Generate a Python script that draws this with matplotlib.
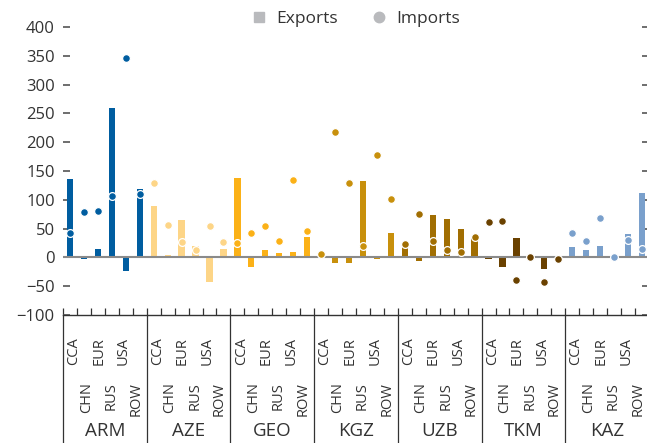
import numpy as np
import matplotlib
matplotlib.use("Agg")
import matplotlib.pyplot as plt
import matplotlib.transforms as mtransforms
from matplotlib.lines import Line2D

plt.rcParams["font.family"] = ["Open Sans", "DejaVu Sans"]

# data
countries = ["ARM", "AZE", "GEO", "KGZ", "UZB", "TKM", "KAZ"]
partners = ["CCA", "CHN", "EUR", "RUS", "USA", "ROW"]
colors = ["#005da0", "#fdd587", "#fbb117", "#c8900c", "#a16e02", "#6a4100", "#7aa0cc"]

exp_arm = [136, -2, 15, 260, -24, 119]
exp_aze = [90, 5, 65, 20, -42, 15]
exp_geo = [138, -17, 13, 8, 10, 36]
exp_kgz = [1, -10, -9, 133, -2, 43]
exp_uzb = [18, -7, 74, 67, 50, 33]
exp_tkm = [-2, -16, 34, 0, -21, 3]
exp_kaz = [18, 12, 20, 0, 41, 112]

imp_arm = [42, 78, 80, 107, 347, 110]
imp_aze = [129, 57, 26, 12, 55, 27]
imp_geo = [25, 43, 54, 28, 134, 45]
imp_kgz = [6, 218, 129, 20, 177, 101]
imp_uzb = [24, 76, 28, 13, 9, 36]
imp_tkm = [61, 64, -40, 0, -43, -2]
imp_kaz = [42, 29, 68, 0, 30, 14]

exports = [exp_arm, exp_aze, exp_geo, exp_kgz, exp_uzb, exp_tkm, exp_kaz]
imports = [imp_arm, imp_aze, imp_geo, imp_kgz, imp_uzb, imp_tkm, imp_kaz]

W, H = 647, 443
fig = plt.figure(figsize=(W / 100, H / 100), dpi=100)
ax = fig.add_axes([63 / W, 128 / H, (649 - 63) / W, (315 - 27) / H])

n = len(partners)
for i, c in enumerate(countries):
    x = np.arange(n) + i * n
    ax.bar(x, exports[i], width=0.45, color=colors[i], zorder=2)
    ax.plot(x, imports[i], "o", ms=5.6, color=colors[i], mec="white", mew=0.9,
            zorder=4, clip_on=False)

ax.axhline(0, color="#8a8a8a", lw=1.5, zorder=3)

ax.set_xlim(-0.5, n * len(countries) - 0.5)
ax.set_ylim(-100, 400)
ax.set_yticks(np.arange(-100, 401, 50))
ax.tick_params(axis="y", direction="in", length=5, width=1.2, color="#555555",
               labelsize=12, labelcolor="#333333", pad=6, right=True, left=True)

for s in ["top", "left", "right"]:
    ax.spines[s].set_visible(False)
ax.spines["bottom"].set_color("#333333")
ax.spines["bottom"].set_linewidth(1)

bounds = np.arange(n * len(countries) + 1) - 0.5
ax.set_xticks(bounds)
ax.set_xticklabels([])
ax.tick_params(axis="x", direction="in", length=5, width=0.9, color="#333333")

trans = mtransforms.blended_transform_factory(ax.transData, ax.transAxes)
for k in range(len(countries) + 1):
    xb = k * n - 0.5
    ax.add_line(Line2D([xb, xb], [0, -0.45], transform=trans, color="#333333",
                       lw=0.9, clip_on=False))

# partner labels, two staggered rows, slightly packed toward group centre
ax_h = 315 - 27
for i in range(len(countries)):
    mid = i * n + 2.5
    for j, p in enumerate(partners):
        xc = mid + (j - 2.5) * 0.89
        ytop = 337 if j % 2 == 0 else 382
        ax.text(xc, -(ytop - 315) / ax_h, p, transform=trans, rotation=90,
                ha="center", va="top", fontsize=10.5, color="#333333")
    ax.text(mid, -(431 - 315) / ax_h, countries[i], transform=trans,
            ha="center", va="center", fontsize=13.5, color="#333333")

handles = [
    Line2D([], [], marker="s", ls="none", ms=7.5, color="#b9babd", label="Exports"),
    Line2D([], [], marker="o", ls="none", ms=7.5, color="#b9babd", label="Imports"),
]
fig.legend(handles=handles, loc="center", bbox_to_anchor=(356 / W, 1 - 19 / H),
           ncol=2, frameon=False, fontsize=12.5, handlelength=0.8,
           handletextpad=0.6, columnspacing=2.0, labelcolor="#333333")

fig.savefig("out.png", dpi=100)
